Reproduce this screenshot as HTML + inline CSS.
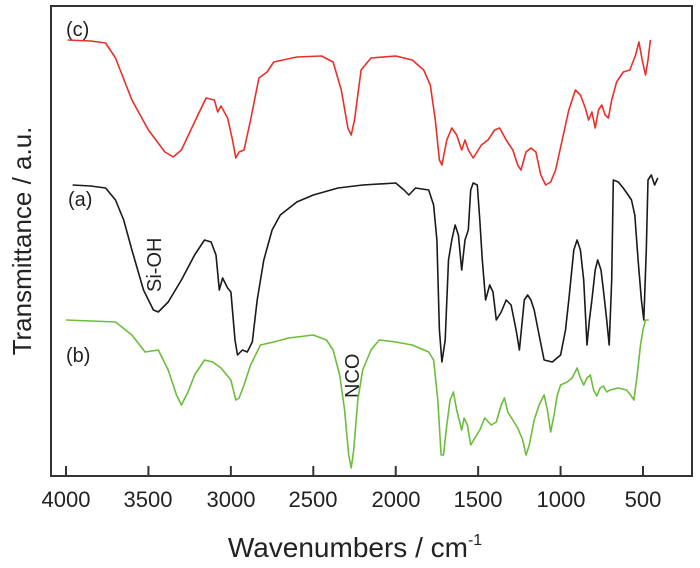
<!DOCTYPE html>
<html><head><style>
html,body{margin:0;padding:0;background:#fff}
text{font-family:"Liberation Sans",Arial,sans-serif;fill:#222}
</style></head><body>
<svg id="s" width="700" height="563" viewBox="0 0 700 563" xmlns="http://www.w3.org/2000/svg">
<rect x="51" y="6" width="641" height="470" fill="none" stroke="#333" stroke-width="2"/>
<g id="ticks" stroke="#333" stroke-width="2"></g>
<g font-size="22" text-anchor="middle">
<text x="66" y="507">4000</text><text x="148" y="507">3500</text><text x="231" y="507">3000</text>
<text x="313" y="507">2500</text><text x="396" y="507">2000</text><text x="478" y="507">1500</text>
<text x="561" y="507">1000</text><text x="643" y="507">500</text>
</g>
<text x="355" y="557" font-size="28" text-anchor="middle">Wavenumbers / cm<tspan dy="-12" font-size="16">-1</tspan></text>
<text transform="translate(31,241) rotate(-90)" font-size="26" text-anchor="middle">Transmittance / a.u.</text>
<g font-size="20">
<text x="66" y="36">(c)</text><text x="68" y="206">(a)</text><text x="66" y="362">(b)</text>
<text transform="translate(161,292) rotate(-90)">Si-OH</text>
<text transform="translate(359,398) rotate(-90)">NCO</text>
</g>
<g id="curves" fill="none" stroke-width="1.6" stroke-linejoin="round"></g>
</svg>
<script>
const X=w=>66+(4000-w)*0.16486;
const red=[[3990,40],[3850,41],[3760,43],[3700,58],[3600,100],[3500,130],[3400,152],[3350,157],[3300,150],[3200,115],[3150,98],[3100,100],[3080,112],[3060,106],[3020,118],[2990,140],[2970,158],[2950,152],[2920,150],[2880,120],[2830,78],[2780,72],[2740,62],[2600,57],[2450,56],[2380,62],[2330,90],[2290,128],[2270,135],[2250,120],[2210,70],[2150,58],[2000,56],[1900,60],[1830,70],[1790,85],[1760,120],[1735,160],[1720,165],[1690,140],[1660,128],[1630,135],[1600,150],[1580,140],[1560,150],[1530,158],[1480,145],[1440,140],[1400,130],[1370,128],[1330,140],[1290,150],[1260,165],[1240,170],[1210,152],[1180,148],[1150,152],[1120,175],[1090,185],[1060,182],[1030,170],[990,140],[950,110],[910,90],[880,95],[850,108],[830,120],[810,112],[790,128],[770,110],[750,105],[730,115],[710,118],[690,100],[660,82],[620,72],[580,70],[545,55],[525,42],[505,60],[485,75],[470,60],[455,40]];
const blk=[[3960,185],[3850,186],[3760,188],[3700,200],[3650,220],[3600,250],[3530,290],[3470,310],[3440,312],[3380,302],[3300,280],[3220,255],[3160,240],[3120,242],[3090,255],[3070,290],[3050,278],[3020,288],[3000,292],[2975,340],[2960,355],[2930,350],[2900,352],[2870,342],[2840,300],[2800,260],[2750,230],[2700,215],[2600,202],[2500,195],[2350,188],[2200,185],[2000,183],[1950,190],[1920,195],[1880,188],[1800,190],[1770,205],[1750,240],[1735,330],[1720,362],[1700,340],[1680,260],[1660,240],[1640,225],[1620,235],[1600,270],[1580,240],[1560,230],[1545,190],[1530,183],[1505,185],[1490,220],[1475,260],[1455,300],[1430,285],[1410,292],[1390,320],[1360,312],[1330,300],[1300,305],[1270,330],[1250,350],[1220,300],[1200,295],[1180,300],[1160,310],[1130,335],[1100,360],[1050,362],[1000,355],[970,330],[950,300],[920,250],[900,240],[880,250],[860,280],[840,345],[825,320],[810,300],[790,270],[775,260],[755,270],[740,290],[720,320],[705,345],[690,280],[680,180],[650,182],[620,188],[590,195],[570,200],[550,215],[530,260],[510,300],[495,320],[480,250],[470,180],[450,175],[430,185],[410,178]];
const grn=[[4000,320],[3850,321],[3700,322],[3600,335],[3520,352],[3440,350],[3380,370],[3330,395],[3300,405],[3260,392],[3220,375],[3160,360],[3110,362],[3060,368],[3000,380],[2970,400],[2950,398],[2920,385],[2880,365],[2820,345],[2740,342],[2650,338],[2500,335],[2420,340],[2380,350],[2340,375],[2310,410],[2285,455],[2270,468],[2255,450],[2230,400],[2200,370],[2150,350],[2100,340],[2000,342],[1900,345],[1800,352],[1770,360],[1745,400],[1725,455],[1710,455],[1690,425],[1670,400],[1650,392],[1630,410],[1600,430],[1585,418],[1565,425],[1545,445],[1520,438],[1490,430],[1460,418],[1420,425],[1390,422],[1360,405],[1340,398],[1320,412],[1290,420],[1260,428],[1230,440],[1210,455],[1190,445],[1160,420],[1130,405],[1100,395],[1080,410],[1060,432],[1040,415],[1020,395],[1000,385],[960,382],[930,378],[900,368],[880,378],[860,385],[840,378],[820,375],[800,390],[780,396],[760,388],[740,386],[720,392],[700,390],[650,388],[600,390],[575,395],[555,400],[535,375],[515,345],[500,330],[485,320],[465,320]];
function path(d,c){let s=d.map((p,i)=>(i?'L':'M')+X(p[0]).toFixed(1)+' '+p[1]).join(' ');
let e=document.createElementNS('http://www.w3.org/2000/svg','path');e.setAttribute('d',s);e.setAttribute('stroke',c);document.getElementById('curves').appendChild(e);}
path(red,'#e8302a');path(blk,'#1a1a1a');path(grn,'#6cbd3c');
const t=document.getElementById('ticks');
for(let w=4000;w>=500;w-=500){let l=document.createElementNS('http://www.w3.org/2000/svg','line');l.setAttribute('x1',X(w));l.setAttribute('x2',X(w));l.setAttribute('y1',466);l.setAttribute('y2',476);t.appendChild(l);}
</script>
</body></html>
